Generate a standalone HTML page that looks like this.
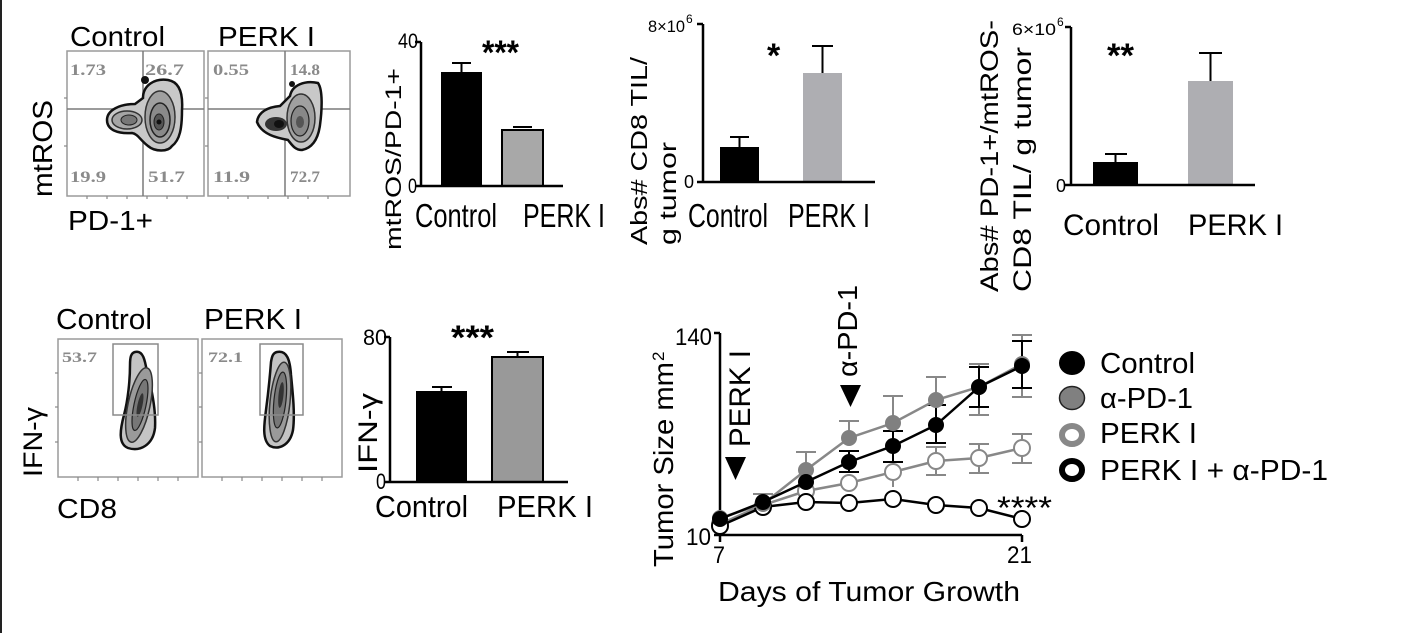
<!DOCTYPE html>
<html><head><meta charset="utf-8"><style>
html,body{margin:0;padding:0;background:#fff;}
svg{display:block;}
text{font-family:"Liberation Sans",Arial,sans-serif;fill:#000;}
.num{font-family:"Liberation Serif",serif;font-weight:bold;fill:#8a8a8a;}
</style></head><body>
<svg width="1414" height="633" viewBox="0 0 1414 633" xmlns="http://www.w3.org/2000/svg">
<defs>
<radialGradient id="g1" cx="50%" cy="50%" r="50%"><stop offset="0" stop-color="#333"/><stop offset="0.5" stop-color="#888"/><stop offset="1" stop-color="#d0d0d0"/></radialGradient>
</defs>
<rect x="0" y="0" width="1414" height="633" fill="#fff"/>
<rect x="0" y="0" width="2" height="633" fill="#222"/>

<!-- ===== Top flow plots ===== -->
<text x="70" y="46" font-size="28" textLength="95" lengthAdjust="spacingAndGlyphs">Control</text>
<text x="218" y="46" font-size="28" textLength="97" lengthAdjust="spacingAndGlyphs">PERK I</text>
<text transform="translate(52,197) rotate(-90)" font-size="28" textLength="97" lengthAdjust="spacingAndGlyphs">mtROS</text>
<text x="68" y="230" font-size="28" textLength="85" lengthAdjust="spacingAndGlyphs">PD-1+</text>

<rect x="67" y="51" width="137" height="145" fill="none" stroke="#9a9a9a" stroke-width="1.5"/>
<rect x="208" y="51" width="142" height="145" fill="none" stroke="#9a9a9a" stroke-width="1.5"/>
<g stroke="#7a7a7a" stroke-width="1.5">
<line x1="67" y1="109" x2="204" y2="109"/><line x1="143" y1="51" x2="143" y2="196"/>
<line x1="208" y1="109" x2="350" y2="109"/><line x1="285" y1="51" x2="285" y2="196"/>
</g>
<g stroke="#888" stroke-width="1.2">
<line x1="64" y1="98" x2="67" y2="98"/><line x1="64" y1="146" x2="67" y2="146"/>
<line x1="205" y1="98" x2="208" y2="98"/><line x1="205" y1="146" x2="208" y2="146"/>
<line x1="87" y1="196" x2="87" y2="199"/><line x1="107" y1="196" x2="107" y2="199"/><line x1="127" y1="196" x2="127" y2="199"/><line x1="147" y1="196" x2="147" y2="199"/><line x1="167" y1="196" x2="167" y2="199"/><line x1="187" y1="196" x2="187" y2="199"/>
<line x1="228" y1="196" x2="228" y2="199"/><line x1="248" y1="196" x2="248" y2="199"/><line x1="268" y1="196" x2="268" y2="199"/><line x1="288" y1="196" x2="288" y2="199"/><line x1="308" y1="196" x2="308" y2="199"/><line x1="328" y1="196" x2="328" y2="199"/>
</g>
<text class="num" x="70" y="75" font-size="16" textLength="36" lengthAdjust="spacingAndGlyphs">1.73</text>
<text class="num" x="145" y="75" font-size="16" textLength="39" lengthAdjust="spacingAndGlyphs">26.7</text>
<text class="num" x="213" y="75" font-size="16" textLength="36" lengthAdjust="spacingAndGlyphs">0.55</text>
<text class="num" x="290" y="75" font-size="16" textLength="30" lengthAdjust="spacingAndGlyphs">14.8</text>
<text class="num" x="70" y="182" font-size="16" textLength="36" lengthAdjust="spacingAndGlyphs">19.9</text>
<text class="num" x="148" y="182" font-size="16" textLength="37" lengthAdjust="spacingAndGlyphs">51.7</text>
<text class="num" x="213" y="182" font-size="16" textLength="37" lengthAdjust="spacingAndGlyphs">11.9</text>
<text class="num" x="290" y="182" font-size="16" textLength="30" lengthAdjust="spacingAndGlyphs">72.7</text>

<!-- Control blob -->
<path d="M107,120 C107,110 120,104 135,104 L143,98 C143,85 155,78 168,80 C180,82 183,95 182,110 C182,128 180,140 172,146 C168,152 155,152 148,146 C140,140 138,134 132,133 C118,134 107,130 107,120 Z" fill="#c8c8c8" stroke="#111" stroke-width="2.5"/>
<ellipse cx="160" cy="117" rx="15" ry="26" fill="#a0a0a0" stroke="#333" stroke-width="1.5"/>
<ellipse cx="160" cy="120" rx="10" ry="17" fill="#8a8a8a" stroke="#222" stroke-width="1.5"/>
<ellipse cx="159" cy="122" rx="5" ry="8" fill="#555" stroke="#222" stroke-width="1"/>
<circle cx="159" cy="122" r="2.5" fill="#111"/>
<ellipse cx="127" cy="120" rx="15" ry="9" fill="#a5a5a5" stroke="#333" stroke-width="1.5"/>
<ellipse cx="129" cy="120" rx="8" ry="5" fill="#777" stroke="#222" stroke-width="1"/>
<circle cx="145" cy="80" r="4" fill="#111"/>

<!-- PERK I blob -->
<path d="M257,122 C258,112 268,107 280,106 L290,96 C292,85 305,80 318,83 C323,90 322,110 320,125 C318,140 312,148 302,150 C295,150 292,145 288,140 C278,138 262,135 257,122 Z" fill="#c8c8c8" stroke="#111" stroke-width="2.5"/>
<ellipse cx="301" cy="118" rx="14" ry="24" fill="#a0a0a0" stroke="#333" stroke-width="1.5"/>
<ellipse cx="300" cy="121" rx="9" ry="15" fill="#888" stroke="#222" stroke-width="1.2"/>
<ellipse cx="300" cy="122" rx="4" ry="6" fill="#555"/>
<ellipse cx="276" cy="124" rx="11" ry="7" fill="#333"/>
<ellipse cx="279" cy="124" rx="5" ry="4" fill="#111"/>
<circle cx="292" cy="84" r="3" fill="#111"/>

<!-- ===== Bar chart 1: mtROS/PD-1+ ===== -->
<text transform="translate(401,250) rotate(-90)" font-size="22" textLength="182" lengthAdjust="spacingAndGlyphs">mtROS/PD-1+</text>
<text x="398" y="48" font-size="21" textLength="20" lengthAdjust="spacingAndGlyphs">40</text>
<text x="408" y="193" font-size="21" textLength="9" lengthAdjust="spacingAndGlyphs">0</text>
<rect x="441" y="72" width="41" height="114" fill="#000"/>
<line x1="461.5" y1="72" x2="461.5" y2="63" stroke="#000" stroke-width="2"/>
<line x1="452" y1="63" x2="471" y2="63" stroke="#000" stroke-width="2"/>
<rect x="502" y="130" width="41" height="56" fill="#a8a8a8" stroke="#000" stroke-width="2"/>
<line x1="513" y1="127" x2="532" y2="127" stroke="#000" stroke-width="2"/>
<g stroke="#000" stroke-width="2.5" fill="none">
<line x1="421" y1="42" x2="421" y2="187"/><line x1="415" y1="42" x2="421" y2="42"/>
<line x1="415" y1="186" x2="563" y2="186"/>
</g>
<text x="482" y="64" font-size="34" font-weight="bold" textLength="37" lengthAdjust="spacingAndGlyphs">***</text>
<text x="415" y="227" font-size="33" textLength="82" lengthAdjust="spacingAndGlyphs">Control</text>
<text x="523" y="227" font-size="33" textLength="82" lengthAdjust="spacingAndGlyphs">PERK I</text>

<!-- ===== Bar chart 2: Abs# CD8 ===== -->
<text transform="translate(647,245) rotate(-90)" font-size="23" textLength="188" lengthAdjust="spacingAndGlyphs">Abs# CD8 TIL/</text>
<text transform="translate(676,245) rotate(-90)" font-size="23" textLength="103" lengthAdjust="spacingAndGlyphs">g tumor</text>
<text x="648" y="32" font-size="17" textLength="37" lengthAdjust="spacingAndGlyphs">8×10</text>
<text x="686" y="23" font-size="12">6</text>
<text x="684" y="188" font-size="18">0</text>
<rect x="720" y="147" width="39" height="35" fill="#000"/>
<line x1="739.5" y1="147" x2="739.5" y2="137" stroke="#000" stroke-width="2"/>
<line x1="730" y1="137" x2="749" y2="137" stroke="#000" stroke-width="2"/>
<rect x="803" y="73" width="39" height="109" fill="#aeaeb2"/>
<line x1="822.5" y1="73" x2="822.5" y2="46" stroke="#000" stroke-width="2"/>
<line x1="812" y1="46" x2="833" y2="46" stroke="#000" stroke-width="2"/>
<g stroke="#000" stroke-width="2.5">
<line x1="703" y1="24" x2="703" y2="183"/><line x1="697" y1="24" x2="703" y2="24"/>
<line x1="697" y1="182" x2="875" y2="182"/>
</g>
<text x="767" y="67" font-size="34" font-weight="bold">*</text>
<text x="688" y="227" font-size="33" textLength="80" lengthAdjust="spacingAndGlyphs">Control</text>
<text x="788" y="227" font-size="33" textLength="82" lengthAdjust="spacingAndGlyphs">PERK I</text>

<!-- ===== Bar chart 3: Abs# PD-1+/mtROS- ===== -->
<text transform="translate(998,292) rotate(-90)" font-size="25" textLength="272" lengthAdjust="spacingAndGlyphs">Abs# PD-1+/mtROS-</text>
<text transform="translate(1031,292) rotate(-90)" font-size="25" textLength="245" lengthAdjust="spacingAndGlyphs">CD8 TIL/ g tumor</text>
<text x="1012" y="35" font-size="17" textLength="44" lengthAdjust="spacingAndGlyphs">6×10</text>
<text x="1057" y="26" font-size="12">6</text>
<text x="1056" y="192" font-size="18">0</text>
<rect x="1093" y="162" width="45" height="23" fill="#000"/>
<line x1="1115.5" y1="162" x2="1115.5" y2="154" stroke="#000" stroke-width="2"/>
<line x1="1105" y1="154" x2="1127" y2="154" stroke="#000" stroke-width="2"/>
<rect x="1188" y="81" width="45" height="104" fill="#aeaeb2"/>
<line x1="1210.5" y1="81" x2="1210.5" y2="53" stroke="#000" stroke-width="2"/>
<line x1="1199" y1="53" x2="1222" y2="53" stroke="#000" stroke-width="2"/>
<g stroke="#000" stroke-width="2.5">
<line x1="1071" y1="27" x2="1071" y2="186"/><line x1="1065" y1="27" x2="1071" y2="27"/>
<line x1="1065" y1="185" x2="1255" y2="185"/>
</g>
<text x="1107" y="67" font-size="34" font-weight="bold" textLength="27" lengthAdjust="spacingAndGlyphs">**</text>
<text x="1063" y="235" font-size="30" textLength="96" lengthAdjust="spacingAndGlyphs">Control</text>
<text x="1188" y="235" font-size="30" textLength="95" lengthAdjust="spacingAndGlyphs">PERK I</text>

<!-- ===== Bottom flow plots ===== -->
<text x="56" y="329" font-size="29" textLength="96" lengthAdjust="spacingAndGlyphs">Control</text>
<text x="204" y="329" font-size="29" textLength="98" lengthAdjust="spacingAndGlyphs">PERK I</text>
<text transform="translate(42,477) rotate(-90)" font-size="27" textLength="70" lengthAdjust="spacingAndGlyphs">IFN-γ</text>
<text x="57" y="518" font-size="28" textLength="60" lengthAdjust="spacingAndGlyphs">CD8</text>
<rect x="58" y="339" width="140" height="138" fill="none" stroke="#9a9a9a" stroke-width="1.5"/>
<rect x="202" y="339" width="140" height="138" fill="none" stroke="#9a9a9a" stroke-width="1.5"/>
<g stroke="#888" stroke-width="1.2">
<line x1="55" y1="373" x2="58" y2="373"/><line x1="55" y1="407" x2="58" y2="407"/><line x1="55" y1="442" x2="58" y2="442"/>
<line x1="199" y1="373" x2="202" y2="373"/><line x1="199" y1="407" x2="202" y2="407"/><line x1="199" y1="442" x2="202" y2="442"/>
<line x1="78" y1="477" x2="78" y2="481"/><line x1="98" y1="477" x2="98" y2="481"/><line x1="118" y1="477" x2="118" y2="481"/><line x1="138" y1="477" x2="138" y2="481"/><line x1="158" y1="477" x2="158" y2="481"/><line x1="178" y1="477" x2="178" y2="481"/>
<line x1="222" y1="477" x2="222" y2="481"/><line x1="242" y1="477" x2="242" y2="481"/><line x1="262" y1="477" x2="262" y2="481"/><line x1="282" y1="477" x2="282" y2="481"/><line x1="302" y1="477" x2="302" y2="481"/><line x1="322" y1="477" x2="322" y2="481"/>
</g>
<path d="M135,352 C143,350 145,360 147,372 C152,390 156,410 155,428 C153,445 140,452 128,448 C118,444 120,430 124,415 C128,400 130,380 130,365 C130,357 131,353 135,352 Z" fill="#c4c4c4" stroke="#111" stroke-width="2.5"/>
<ellipse cx="139" cy="405" rx="11" ry="38" transform="rotate(12 139 405)" fill="#9a9a9a" stroke="#333" stroke-width="1.5"/>
<ellipse cx="140" cy="405" rx="6" ry="26" transform="rotate(12 140 405)" fill="#777" stroke="#222" stroke-width="1.2"/>
<ellipse cx="140" cy="405" rx="2.5" ry="12" transform="rotate(12 140 405)" fill="#333"/>
<path d="M277,352 C287,350 290,360 291,375 C293,395 295,415 293,430 C290,446 278,450 270,446 C262,440 264,425 266,410 C268,395 270,375 271,362 C272,356 273,353 277,352 Z" fill="#c4c4c4" stroke="#111" stroke-width="2.5"/>
<ellipse cx="280" cy="402" rx="10" ry="40" transform="rotate(6 280 402)" fill="#9a9a9a" stroke="#333" stroke-width="1.5"/>
<ellipse cx="280" cy="400" rx="6" ry="28" transform="rotate(6 280 400)" fill="#777" stroke="#222" stroke-width="1.2"/>
<ellipse cx="281" cy="395" rx="2.5" ry="13" transform="rotate(6 281 395)" fill="#333"/>
<rect x="113" y="344" width="45" height="71" fill="none" stroke="#8a8a8a" stroke-width="1.5"/>
<rect x="260" y="344" width="43" height="71" fill="none" stroke="#8a8a8a" stroke-width="1.5"/>
<text class="num" x="62" y="362" font-size="15" textLength="35" lengthAdjust="spacingAndGlyphs">53.7</text>
<text class="num" x="208" y="362" font-size="15" textLength="35" lengthAdjust="spacingAndGlyphs">72.1</text>

<!-- ===== Bar chart IFN-γ ===== -->
<text transform="translate(377,473) rotate(-90)" font-size="27" textLength="80" lengthAdjust="spacingAndGlyphs">IFN-γ</text>
<text x="363" y="345" font-size="22" textLength="24" lengthAdjust="spacingAndGlyphs">80</text>
<text x="376" y="489" font-size="22" textLength="10" lengthAdjust="spacingAndGlyphs">0</text>
<rect x="416" y="391" width="51" height="91" fill="#000"/>
<line x1="441.5" y1="391" x2="441.5" y2="387" stroke="#000" stroke-width="2"/>
<line x1="432" y1="387" x2="452" y2="387" stroke="#000" stroke-width="2"/>
<rect x="492" y="357" width="51" height="125" fill="#999" stroke="#000" stroke-width="2"/>
<line x1="517.5" y1="357" x2="517.5" y2="352" stroke="#000" stroke-width="2"/>
<line x1="507" y1="352" x2="529" y2="352" stroke="#000" stroke-width="2"/>
<g stroke="#000" stroke-width="2.5">
<line x1="390" y1="337" x2="390" y2="483"/><line x1="384" y1="337" x2="390" y2="337"/>
<line x1="384" y1="482" x2="568" y2="482"/>
</g>
<text x="451" y="349" font-size="34" font-weight="bold" textLength="43" lengthAdjust="spacingAndGlyphs">***</text>
<text x="375" y="517" font-size="31" textLength="93" lengthAdjust="spacingAndGlyphs">Control</text>
<text x="497" y="517" font-size="31" textLength="96" lengthAdjust="spacingAndGlyphs">PERK I</text>

<!-- ===== Line chart ===== -->
<text transform="translate(673,567) rotate(-90)" font-size="28" textLength="205" lengthAdjust="spacingAndGlyphs">Tumor Size mm</text>
<text transform="translate(664,361) rotate(-90)" font-size="17">2</text>
<text x="675" y="345" font-size="24" textLength="37" lengthAdjust="spacingAndGlyphs">140</text>
<text x="686" y="545" font-size="24" textLength="25" lengthAdjust="spacingAndGlyphs">10</text>
<text x="713" y="563" font-size="24" textLength="12" lengthAdjust="spacingAndGlyphs">7</text>
<text x="1007" y="563" font-size="24" textLength="25" lengthAdjust="spacingAndGlyphs">21</text>
<text x="718" y="601" font-size="28" textLength="302" lengthAdjust="spacingAndGlyphs">Days of Tumor Growth</text>
<g stroke="#000" stroke-width="2.5">
<line x1="720" y1="333" x2="720" y2="542"/><line x1="714" y1="333" x2="720" y2="333"/><line x1="714" y1="535" x2="720" y2="535"/>
<line x1="720" y1="535" x2="1022" y2="535"/><line x1="1022" y1="535" x2="1022" y2="542"/>
</g>
<text transform="translate(750,447) rotate(-90)" font-size="30" textLength="97" lengthAdjust="spacingAndGlyphs">PERK I</text>
<polygon points="725,457 746,457 735.5,480" fill="#000"/>
<text transform="translate(857,377) rotate(-90)" font-size="28" textLength="92" lengthAdjust="spacingAndGlyphs">α-PD-1</text>
<polygon points="840,385 861,385 850.5,407" fill="#000"/>
<text x="997" y="519" font-size="32" textLength="55" lengthAdjust="spacingAndGlyphs">****</text>

<!-- error bars gray -->
<g stroke="#888" stroke-width="2" fill="none">
<line x1="806" y1="470" x2="806" y2="452"/><line x1="796" y1="452" x2="816" y2="452"/>
<line x1="849" y1="438" x2="849" y2="421"/><line x1="839" y1="421" x2="859" y2="421"/>
<line x1="893" y1="423" x2="893" y2="396"/><line x1="883" y1="396" x2="903" y2="396"/>
<line x1="936" y1="400" x2="936" y2="377"/><line x1="926" y1="377" x2="946" y2="377"/>
<line x1="979" y1="364" x2="979" y2="415"/><line x1="969" y1="364" x2="989" y2="364"/><line x1="969" y1="415" x2="989" y2="415"/>
<line x1="1022" y1="335" x2="1022" y2="397"/><line x1="1012" y1="335" x2="1032" y2="335"/><line x1="1012" y1="397" x2="1032" y2="397"/>
<line x1="763" y1="505" x2="763" y2="494"/><line x1="753" y1="494" x2="773" y2="494"/>
<line x1="893" y1="472" x2="893" y2="487"/>
<line x1="936" y1="447" x2="936" y2="475"/><line x1="926" y1="447" x2="946" y2="447"/><line x1="926" y1="475" x2="946" y2="475"/>
<line x1="979" y1="444" x2="979" y2="473"/><line x1="969" y1="444" x2="989" y2="444"/><line x1="969" y1="473" x2="989" y2="473"/>
<line x1="1022" y1="434" x2="1022" y2="463"/><line x1="1012" y1="434" x2="1032" y2="434"/><line x1="1012" y1="463" x2="1032" y2="463"/>
</g>
<!-- error bars black -->
<g stroke="#000" stroke-width="2" fill="none">
<line x1="849" y1="451" x2="849" y2="472"/><line x1="839" y1="451" x2="859" y2="451"/><line x1="839" y1="472" x2="859" y2="472"/>
<line x1="893" y1="431" x2="893" y2="462"/><line x1="883" y1="431" x2="903" y2="431"/><line x1="883" y1="462" x2="903" y2="462"/>
<line x1="936" y1="405" x2="936" y2="443"/><line x1="926" y1="405" x2="946" y2="405"/><line x1="926" y1="443" x2="946" y2="443"/>
<line x1="979" y1="367" x2="979" y2="407"/><line x1="969" y1="367" x2="989" y2="367"/><line x1="969" y1="407" x2="989" y2="407"/>
<line x1="1022" y1="341" x2="1022" y2="388"/><line x1="1012" y1="341" x2="1032" y2="341"/><line x1="1012" y1="388" x2="1032" y2="388"/>
</g>

<!-- PERK I (gray open) -->
<polyline points="720,524 763,505 806,491 849,483 893,472 936,461 979,458 1022,448" fill="none" stroke="#888" stroke-width="2.5"/>
<g fill="#fff" stroke="#888" stroke-width="2">
<circle cx="720" cy="524" r="8"/><circle cx="763" cy="505" r="8"/><circle cx="806" cy="491" r="8"/><circle cx="849" cy="483" r="8"/><circle cx="893" cy="472" r="8"/><circle cx="936" cy="461" r="8"/><circle cx="979" cy="458" r="8"/><circle cx="1022" cy="448" r="8"/>
</g>
<!-- PERK I + a-PD-1 (black open) -->
<polyline points="720,526 763,507 806,502 849,503 893,499 936,505 979,508 1022,519" fill="none" stroke="#000" stroke-width="2.5"/>
<g fill="#fff" stroke="#000" stroke-width="2">
<circle cx="720" cy="526" r="8"/><circle cx="763" cy="507" r="8"/><circle cx="806" cy="502" r="8"/><circle cx="849" cy="503" r="8"/><circle cx="893" cy="499" r="8"/><circle cx="936" cy="505" r="8"/><circle cx="979" cy="508" r="8"/><circle cx="1022" cy="519" r="8"/>
</g>
<!-- a-PD-1 (gray filled) -->
<polyline points="720,518 763,504 806,470 849,438 893,423 936,400 979,387 1022,364" fill="none" stroke="#888" stroke-width="2.5"/>
<g fill="#808080">
<circle cx="720" cy="518" r="8"/><circle cx="763" cy="504" r="8"/><circle cx="806" cy="470" r="8"/><circle cx="849" cy="438" r="8"/><circle cx="893" cy="423" r="8"/><circle cx="936" cy="400" r="8"/><circle cx="979" cy="387" r="8"/><circle cx="1022" cy="364" r="8"/>
</g>
<!-- Control (black filled) -->
<polyline points="720,519 763,502 806,482 849,462 893,446 936,425 979,387 1022,366" fill="none" stroke="#000" stroke-width="2.5"/>
<g fill="#000">
<circle cx="720" cy="519" r="8"/><circle cx="763" cy="502" r="8"/><circle cx="806" cy="482" r="8"/><circle cx="849" cy="462" r="8"/><circle cx="893" cy="446" r="8"/><circle cx="936" cy="425" r="8"/><circle cx="979" cy="387" r="8"/><circle cx="1022" cy="366" r="8"/>
</g>

<!-- Legend -->
<ellipse cx="1072" cy="363" rx="13" ry="12" fill="#000"/>
<ellipse cx="1072" cy="398" rx="12.5" ry="11.5" fill="#808080" stroke="#222" stroke-width="1.5"/>
<ellipse cx="1072" cy="435" rx="10" ry="9" fill="#fff" stroke="#888" stroke-width="6"/>
<ellipse cx="1072" cy="470" rx="10" ry="9" fill="#fff" stroke="#000" stroke-width="6"/>
<text x="1100" y="373" font-size="29" textLength="95" lengthAdjust="spacingAndGlyphs">Control</text>
<text x="1100" y="408" font-size="29" textLength="93" lengthAdjust="spacingAndGlyphs">α-PD-1</text>
<text x="1100" y="443" font-size="29" textLength="97" lengthAdjust="spacingAndGlyphs">PERK I</text>
<text x="1100" y="480" font-size="29" textLength="228" lengthAdjust="spacingAndGlyphs">PERK I + α-PD-1</text>
</svg>
</body></html>
